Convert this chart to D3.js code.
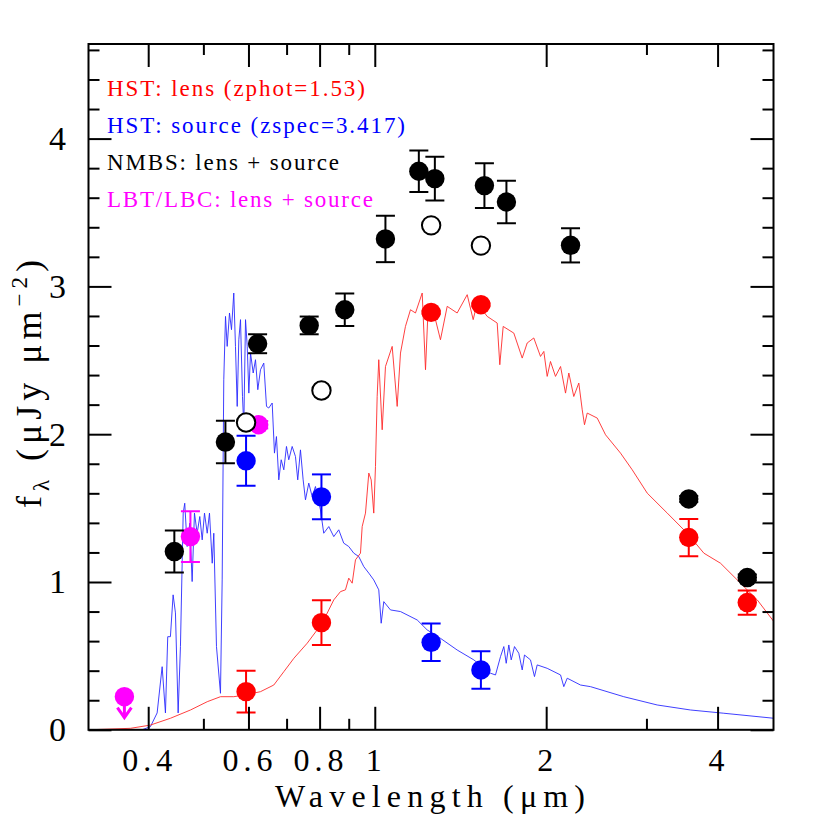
<!DOCTYPE html>
<html><head><meta charset="utf-8">
<script src="https://cdn.jsdelivr.net/npm/d3@7"></script>
<style>body{margin:0;background:#fff}svg{display:block}</style>
</head><body>
<script>
// ---- data ----
const xMajor = [0.4, 0.6, 0.8, 1, 2, 4];
const xMajorLabels = ["0.4", "0.6", "0.8", "1", "2", "4"];
const xMinor = [0.5, 0.7, 0.9, 3];
const yMajor = [0, 1, 2, 3, 4];
const yMajorLabels = ["0", "1", "2", "3", "4"];
const yMinor = [0.2,0.4,0.6,0.8,1.2,1.4,1.6,1.8,2.2,2.4,2.6,2.8,3.2,3.4,3.6,3.8,4.2,4.4,4.6];

const legendLabels = ["HST: lens (zphot=1.53)", "HST: source (zspec=3.417)", "NMBS: lens + source", "LBT/LBC: lens + source"];

const nmbsLam = [0.4446,0.5466,0.6226,0.767,0.8857,1.044,1.195,1.275,1.558,1.703,2.207,3.56,4.51];
const nmbsF   = [1.206,1.947,2.612,2.736,2.842,3.321,3.779,3.729,3.682,3.571,3.278,1.562,1.03];
const nmbsErr = [0.142,0.144,0.064,0.06,0.11,0.157,0.14,0.148,0.152,0.143,0.116,0.02,0.02];

const openLam = [0.5942,0.806,1.256,1.536];
const openF   = [2.079,2.296,3.413,3.276];

const srcLam = [0.5942,0.806,1.256,1.536];
const srcF   = [1.82,1.576,0.592,0.405];
const srcErr = [0.169,0.152,0.127,0.127];

const lensLam = [0.5942,0.806,1.256,1.536,3.56,4.51];
const lensF   = [0.258,0.725,2.824,2.876,1.301,0.861];
const lensErr = [0.141,0.151,0.01,0.01,0.126,0.082];

const lbtLam = [0.4745,0.6254];
const lbtF   = [1.307,2.064];
const lbtErr = [0.171,0.025];
const lbtLimLam = [0.3633];
const lbtLimF   = [0.224];

const blueLam = [0.3142,0.39,0.4036,0.4147,0.4232,0.4289,0.4329,0.4376,0.4424,0.4466,0.4515,0.4557,0.4608,0.4637,0.4683,0.4732,0.4778,0.4823,0.4876,0.4928,0.4976,0.5023,0.5078,0.5125,0.5182,0.5215,0.5272,0.5358,0.5395,0.543,0.5468,0.5505,0.5557,0.5602,0.5654,0.5693,0.5733,0.577,0.581,0.5857,0.5888,0.5929,0.597,0.6009,0.605,0.6116,0.6173,0.6231,0.6299,0.6383,0.6454,0.6513,0.6604,0.6665,0.6719,0.6783,0.6849,0.6922,0.6997,0.7062,0.716,0.7256,0.7323,0.7404,0.7485,0.7556,0.7657,0.7763,0.7867,0.8028,0.8135,0.8303,0.8472,0.8644,0.882,0.9001,0.9186,0.9374,0.9565,0.9761,0.9959,1.0163,1.0262,1.0371,1.0656,1.1096,1.1871,1.2359,1.3042,1.3953,1.4925,1.5967,1.6293,1.6627,1.6851,1.7015,1.7196,1.7363,1.7596,1.7903,1.8152,1.832,1.877,1.9075,1.9286,2.0082,2.1197,2.1478,2.1777,2.2979,2.3926,2.7371,3.1333,3.5852,4.102,5.0224];
const blueF   = [0,0,0.021,0.114,0.427,0.114,0.63,0.63,0.913,0.791,0.114,0.563,1.466,1.533,1.24,1.398,1.003,1.466,1.33,1.443,1.285,1.466,1.33,1.466,1.127,1.33,0.563,0.247,1.014,2.368,2.797,2.594,2.82,2.707,2.955,2.594,2.188,2.639,2.775,2.255,2.052,2.775,2.594,2.278,2.549,2.414,2.504,2.301,2.436,2.481,2.188,2.177,2.211,1.872,1.984,1.691,1.827,1.759,1.917,1.827,1.917,1.849,1.691,1.894,1.691,1.556,1.669,1.578,1.646,1.488,1.33,1.375,1.307,1.353,1.263,1.24,1.195,1.172,1.104,1.06,1.014,0.947,0.721,0.867,0.811,0.8,0.743,0.676,0.619,0.54,0.473,0.383,0.371,0.495,0.563,0.45,0.574,0.473,0.563,0.518,0.405,0.506,0.473,0.36,0.439,0.416,0.371,0.292,0.349,0.303,0.292,0.224,0.168,0.134,0.112,0.078];

const redLam = [0.3142,0.3724,0.4036,0.4376,0.4746,0.5078,0.5358,0.5654,0.5929,0.6299,0.6647,0.6922,0.721,0.7609,0.8083,0.8472,0.8705,0.8882,0.9001,0.9127,0.9249,0.9438,0.9503,0.9631,0.9761,0.9856,0.9959,1.0028,1.0097,1.0163,1.0304,1.0442,1.0729,1.0948,1.1096,1.132,1.1553,1.1789,1.2114,1.2277,1.2391,1.2782,1.3042,1.3402,1.3953,1.4531,1.4887,1.5132,1.5755,1.6406,1.658,1.6808,1.7547,1.8152,1.8521,1.9023,1.9546,1.981,2.0082,2.0351,2.0767,2.1197,2.1627,2.1918,2.2362,2.2821,2.3138,2.3352,2.3611,2.4585,2.5426,2.7014,2.8326,3.0097,3.2636,3.5377,3.7844,4.0476,4.3885,4.6955,5.0224];
const redF   = [0,0.01,0.032,0.078,0.134,0.19,0.224,0.224,0.236,0.258,0.303,0.393,0.484,0.586,0.721,0.879,0.935,0.947,1.026,0.992,1.15,1.195,1.375,1.466,1.737,1.691,1.466,1.781,2.255,2.504,2.03,2.458,2.594,2.188,2.549,2.729,2.842,2.82,2.955,2.436,2.797,2.775,2.639,2.865,2.82,2.944,2.775,2.888,2.797,2.752,2.47,2.729,2.684,2.515,2.617,2.651,2.526,2.56,2.391,2.492,2.391,2.458,2.278,2.414,2.255,2.346,2.165,2.064,2.143,2.109,1.996,1.872,1.759,1.601,1.466,1.33,1.195,1.127,0.992,0.879,0.732];

// ---- chart ----
const W = 830, H = 816;
const L = 88.5, R = 773.5, T = 44, B = 729.8;
const svg = d3.select("body").append("svg").attr("width", W).attr("height", H);

const x = d3.scaleLog().domain([0.3142, 5.015]).range([L, R]);
const y = d3.scaleLinear().domain([0, 4.64]).range([B, T]);

svg.append("defs").append("clipPath").attr("id", "clip")
  .append("rect").attr("x", L).attr("y", T).attr("width", R - L).attr("height", B - T);

const plot = svg.append("g").attr("clip-path", "url(#clip)");

const line = d3.line().x(d => x(d[0])).y(d => y(d[1]));
plot.append("path").datum(blueLam.map((l, i) => [l, blueF[i]]))
  .attr("d", line).attr("fill", "none").attr("stroke", "#2a2aff").attr("stroke-width", 0.9);
plot.append("path").datum(redLam.map((l, i) => [l, redF[i]]))
  .attr("d", line).attr("fill", "none").attr("stroke", "#ff2a2a").attr("stroke-width", 0.9);

const CAP = 9.5, RAD = 9.7;
function points(lam, f, err, color, open) {
  const g = plot.append("g");
  const data = lam.map((l, i) => ({l, f: f[i], e: err ? err[i] : 0}));
  if (err) {
    const eb = g.selectAll(".eb").data(data).enter().append("g")
      .attr("stroke", color).attr("stroke-width", 2);
    eb.append("line").attr("x1", d => x(d.l)).attr("x2", d => x(d.l))
      .attr("y1", d => y(d.f - d.e)).attr("y2", d => y(d.f + d.e));
    eb.append("line").attr("x1", d => x(d.l) - CAP).attr("x2", d => x(d.l) + CAP)
      .attr("y1", d => y(d.f + d.e)).attr("y2", d => y(d.f + d.e));
    eb.append("line").attr("x1", d => x(d.l) - CAP).attr("x2", d => x(d.l) + CAP)
      .attr("y1", d => y(d.f - d.e)).attr("y2", d => y(d.f - d.e));
  }
  g.selectAll("circle").data(data).enter().append("circle")
    .attr("cx", d => x(d.l)).attr("cy", d => y(d.f))
    .attr("r", open ? RAD - 0.5 : RAD)
    .attr("fill", open ? "#fff" : color)
    .attr("stroke", open ? "#000" : "none").attr("stroke-width", 2);
}

points(lensLam, lensF, lensErr, "#ff0000");
points(srcLam, srcF, srcErr, "#0000ff");
points(lbtLam, lbtF, lbtErr, "#ff00ff");
points(nmbsLam, nmbsF, nmbsErr, "#000000");
points(openLam, openF, null, "#000", true);

// upper limit
const lim = plot.append("g").attr("stroke", "#ff00ff").attr("stroke-width", 3).attr("fill", "none");
lbtLimLam.forEach((l, i) => {
  const cx = x(l), cy = y(lbtLimF[i]);
  lim.append("line").attr("x1", cx).attr("x2", cx).attr("y1", cy).attr("y2", cy + 21);
  lim.append("polyline").attr("points", `${cx-7},${cy+11} ${cx},${cy+21} ${cx+7},${cy+11}`);
});
plot.selectAll(".limc").data(lbtLimLam).enter().append("circle")
  .attr("cx", d => x(d)).attr("cy", (d, i) => y(lbtLimF[i])).attr("r", RAD).attr("fill", "#ff00ff");

// ---- axes (ticks inward on all sides) ----
function tickAxis(axisFn, scale, vals, size, transform) {
  const g = svg.append("g").attr("transform", transform)
    .call(axisFn(scale).tickValues(vals).tickSize(-size).tickFormat(""));
  g.select(".domain").remove();
  g.selectAll("line").attr("stroke", "#000").attr("stroke-width", 2);
}
tickAxis(d3.axisBottom, x, xMajor, 23, `translate(0,${B})`);
tickAxis(d3.axisBottom, x, xMinor, 11, `translate(0,${B})`);
tickAxis(d3.axisTop, x, xMajor, 23, `translate(0,${T})`);
tickAxis(d3.axisTop, x, xMinor, 11, `translate(0,${T})`);
tickAxis(d3.axisLeft, y, yMajor, 23, `translate(${L},0)`);
tickAxis(d3.axisLeft, y, yMinor, 11, `translate(${L},0)`);
tickAxis(d3.axisRight, y, yMajor, 23, `translate(${R},0)`);
tickAxis(d3.axisRight, y, yMinor, 11, `translate(${R},0)`);

svg.append("rect").attr("x", L).attr("y", T).attr("width", R - L).attr("height", B - T)
  .attr("fill", "none").attr("stroke", "#000").attr("stroke-width", 2);

const FONT = "'Liberation Serif', 'Times New Roman', serif";
svg.append("g").selectAll("text").data(xMajor).enter().append("text")
  .attr("x", d => x(d) - 1).attr("y", 770.5)
  .attr("text-anchor", "middle").attr("font-family", FONT).attr("font-size", 32)
  .each(function(d, i) {
    const t = d3.select(this).text(xMajorLabels[i]);
    if (xMajorLabels[i].length > 1) t.attr("textLength", 50).attr("lengthAdjust", "spacing");
  });

svg.append("g").selectAll("text").data(yMajor).enter().append("text")
  .attr("x", 57.5).attr("y", d => y(d) + 11.5)
  .attr("text-anchor", "middle").attr("font-family", FONT).attr("font-size", 34)
  .text((d, i) => yMajorLabels[i]);

svg.append("text").attr("x", 275).attr("y", 807)
  .attr("font-family", FONT).attr("font-size", 32)
  .attr("textLength", 310).attr("lengthAdjust", "spacing")
  .text("Wavelength (\u03bcm)");

const yl = svg.append("text").attr("transform", "translate(41,508) rotate(-90)")
  .attr("font-family", FONT).attr("font-size", 36)
  .attr("textLength", 248).attr("lengthAdjust", "spacing");
yl.append("tspan").text("f");
yl.append("tspan").attr("font-size", 23).attr("dy", 8).text("\u03bb");
yl.append("tspan").attr("dy", -8).text(" (\u03bcJy \u03bcm");
yl.append("tspan").attr("font-size", 23).attr("dy", -14).text("\u22122");
yl.append("tspan").attr("dy", 14).text(")");

const legColors = ["#ff0000", "#0000ff", "#000000", "#ff00ff"];
const legY = [96, 132.7, 170, 206.7];
const legLen = [258, 298, 232, 266];
svg.append("g").selectAll("text").data(legendLabels).enter().append("text")
  .attr("x", 107).attr("y", (d, i) => legY[i])
  .attr("font-family", FONT).attr("font-size", 23)
  .attr("fill", (d, i) => legColors[i])
  .attr("textLength", (d, i) => legLen[i]).attr("lengthAdjust", "spacing")
  .text(d => d);
</script>
</body></html>
